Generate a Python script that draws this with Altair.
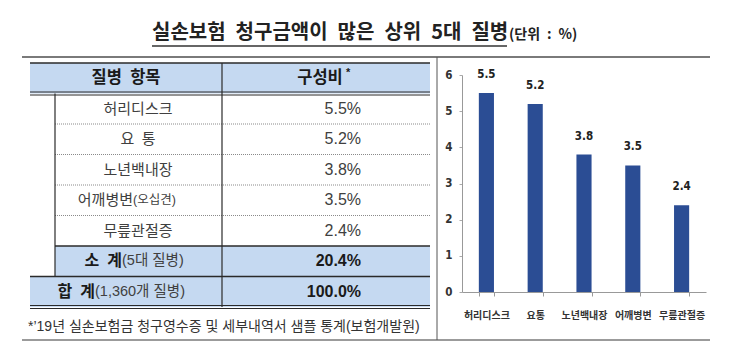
import altair as alt
import pandas as pd

# ---------------- data ----------------
title_main = "실손보험 청구금액이 많은 상위 5대 질병"
title_unit = "(단위 : %)"
header_labels = ["질병\u2002항목", "구성비"]
diseases = ["허리디스크", "요\u2002통", "노년백내장", "어깨병변", "무릎관절증"]
disease_notes = ["", "", "", "(오십견)", ""]
shares = [5.5, 5.2, 3.8, 3.5, 2.4]
summary_labels = ["소\u2002계", "합\u2002계"]
summary_notes = ["(5대 질병)", "(1,360개 질병)"]
summary_values = [20.4, 100.0]
footnote = "*\u201919년 실손보험금 청구영수증 및 세부내역서 샘플 통계(보험개발원)"
bar_labels = ["허리디스크", "요통", "노년백내장", "어깨병변", "무릎관절증"]
y_ticks = [0, 1, 2, 3, 4, 5, 6]

# ---------------- layout / style ----------------
W, H = 743, 355
FONT_KR = "Noto Sans CJK KR"
FONT_TBL = "Liberation Sans, Noto Sans CJK KR"
FONT_NUM = "Liberation Sans Narrow, DejaVu Sans Condensed, Liberation Sans"
FONT_CHART = "Liberation Sans Narrow, Noto Sans CJK KR"
TBL_L, TBL_IN, TBL_MID, TBL_R = 30, 55, 222, 430
ROW_TOP, ROW_BOT = 63, 307
COL1_C, COL2_R = 138, 361
HEAD1_C, HEAD2_C = 126, 320
BLUE_FILL = "#c5d9f1"
BAR_COLOR = "#2b4d94"
LINE_DARK = "#2a2a2a"
SPLIT_X = {4: 133, 6: 122, 7: 95}   # where main label ends and the small note begins
PLOT_X0, PLOT_X1, PLOT_Y0, PLOT_Y1 = 462, 706, 292, 75

# ---------------- table frame ----------------
n_items = len(diseases)
rows = [dict(r=0, kind="header", label=header_labels[0], note="", value=header_labels[1])]
for i, (d, nt, v) in enumerate(zip(diseases, disease_notes, shares)):
    rows.append(dict(r=i + 1, kind="item", label=d, note=nt, value=f"{v:.1f}%"))
for j, (lab, nt, v) in enumerate(zip(summary_labels, summary_notes, summary_values)):
    rows.append(dict(r=n_items + 1 + j, kind="subtotal" if j == 0 else "total",
                     label=lab, note=nt, value=f"{v:.1f}%"))
tbl = pd.DataFrame(rows)
tbl["r1"] = tbl["r"] + 1
tbl["rc"] = tbl["r"] + 0.5
tbl["split"] = tbl["r"].map(SPLIT_X)
n_rows = len(tbl)

yrow = alt.Scale(domain=[0, n_rows], range=[ROW_TOP, ROW_BOT], nice=False, zero=False)


def Yr(field):
    return alt.Y(f"{field}:Q", scale=yrow, axis=None)


fill_wide = alt.Chart(tbl[tbl["kind"].isin(["header", "total"])]).mark_rect(color=BLUE_FILL).encode(
    x=alt.value(TBL_L), x2=alt.value(TBL_R), y=Yr("r"), y2="r1:Q")
fill_inner = alt.Chart(tbl[tbl["kind"] == "subtotal"]).mark_rect(color=BLUE_FILL).encode(
    x=alt.value(TBL_IN), x2=alt.value(TBL_R), y=Yr("r"), y2="r1:Q")

style = ["wide", "double"] + ["dotted"] * (n_items - 1) + ["inner", "wide", "double"]
bounds = pd.DataFrame({"b": list(range(n_rows + 1)), "style": style})


def hrule(st, x0, **kw):
    return alt.Chart(bounds[bounds["style"] == st]).mark_rule(**kw).encode(
        x=alt.value(x0), x2=alt.value(TBL_R), y=Yr("b"))


rules = [
    hrule("wide", TBL_L, color=LINE_DARK, strokeWidth=1.6),
    hrule("double", TBL_L, color=LINE_DARK, strokeWidth=1, yOffset=-1.5),
    hrule("double", TBL_L, color=LINE_DARK, strokeWidth=1, yOffset=1.5),
    hrule("inner", TBL_IN, color=LINE_DARK, strokeWidth=1.4),
    hrule("dotted", TBL_IN, color="#8a8a8a", strokeWidth=1, strokeDash=[1, 1]),
]
vl = pd.DataFrame({"b0": [1, 0], "b1": [n_rows - 1, n_rows]})
rules.append(alt.Chart(vl.iloc[[0]]).mark_rule(color=LINE_DARK, strokeWidth=1.2).encode(
    x=alt.value(TBL_IN), y=Yr("b0"), y2="b1:Q"))
rules.append(alt.Chart(vl.iloc[[1]]).mark_rule(color=LINE_DARK, strokeWidth=1.2).encode(
    x=alt.value(TBL_MID), y=Yr("b0"), y2="b1:Q"))

hdr = tbl[tbl["kind"] == "header"]
items_plain = tbl[(tbl["kind"] == "item") & (tbl["note"] == "")]
items_note = tbl[(tbl["kind"] == "item") & (tbl["note"] != "")]
summ = tbl[tbl["kind"].isin(["subtotal", "total"])]
items = tbl[tbl["kind"] == "item"]

texts = [
    alt.Chart(hdr).mark_text(font=FONT_TBL, fontSize=16.5, fontWeight="bold", color="#1a1a1a",
                             baseline="middle").encode(x=alt.value(HEAD1_C), y=Yr("rc"), text="label:N"),
    alt.Chart(hdr).mark_text(font=FONT_TBL, fontSize=16.5, fontWeight="bold", color="#1a1a1a",
                             baseline="middle").encode(x=alt.value(HEAD2_C), y=Yr("rc"), text="value:N"),
    alt.Chart(hdr).mark_text(font=FONT_TBL, fontSize=11, fontWeight="bold", color="#1a1a1a",
                             align="left", baseline="middle", dx=26, dy=-5).encode(
        x=alt.value(HEAD2_C), y=Yr("rc"), text=alt.value("*")),
    alt.Chart(items_plain).mark_text(font=FONT_TBL, fontSize=15, color="#404040",
                                     baseline="middle").encode(x=alt.value(COL1_C), y=Yr("rc"), text="label:N"),
    alt.Chart(items_note).mark_text(font=FONT_TBL, fontSize=15, color="#404040", align="right",
                                    baseline="middle").encode(x=alt.X("split:Q", scale=None), y=Yr("rc"), text="label:N"),
    alt.Chart(items_note).mark_text(font=FONT_TBL, fontSize=12.5, color="#404040", align="left",
                                    baseline="middle").encode(x=alt.X("split:Q", scale=None), y=Yr("rc"), text="note:N"),
    alt.Chart(summ).mark_text(font=FONT_TBL, fontSize=16, fontWeight="bold", color="#1a1a1a", align="right",
                              baseline="middle").encode(x=alt.X("split:Q", scale=None), y=Yr("rc"), text="label:N"),
    alt.Chart(summ).mark_text(font=FONT_TBL, fontSize=14.5, color="#404040", align="left",
                              baseline="middle").encode(x=alt.X("split:Q", scale=None), y=Yr("rc"), text="note:N"),
    alt.Chart(items).mark_text(font=FONT_TBL, fontSize=16, color="#404040", align="right",
                               baseline="middle").encode(x=alt.value(COL2_R), y=Yr("rc"), text="value:N"),
    alt.Chart(summ).mark_text(font=FONT_TBL, fontSize=16, fontWeight="bold", color="#1a1a1a", align="right",
                              baseline="middle").encode(x=alt.value(COL2_R), y=Yr("rc"), text="value:N"),
]

table = alt.layer(fill_wide, fill_inner, *rules, *texts)

# ---------------- bar chart ----------------
bars_df = pd.DataFrame({"질병": bar_labels, "구성비": shares})
bars_df["label"] = bars_df["구성비"].map(lambda v: f"{v:.1f}")

xb = alt.X("질병:N", sort=bar_labels,
           scale=alt.Scale(range=[PLOT_X0, PLOT_X1], paddingInner=0.69, paddingOuter=0.345),
           axis=alt.Axis(orient="bottom", offset=-(H - PLOT_Y0), title=None, labelAngle=0,
                         tickBand="extent", labelFont=FONT_CHART, labelFontSize=10,
                         labelFontWeight="bold", labelColor="#333", labelPadding=14,
                         tickSize=4, tickColor="#999", domainColor="#999"))
yb = alt.Y("구성비:Q", scale=alt.Scale(domain=[0, 6], range=[PLOT_Y0, PLOT_Y1], nice=False),
           axis=alt.Axis(orient="left", offset=-PLOT_X0, values=y_ticks, title=None, grid=False,
                         labelFont=FONT_NUM, labelFontSize=11.5, labelFontWeight="bold",
                         labelColor="#333", tickSize=3, tickColor="#aaa", domainColor="#999",
                         labelPadding=7))
bars = alt.Chart(bars_df).mark_bar(color=BAR_COLOR).encode(x=xb, y=yb)
bar_text = alt.Chart(bars_df).mark_text(dy=-18, baseline="middle", font=FONT_NUM, fontSize=11.5,
                                        fontWeight="bold", color="#222").encode(x=xb, y=yb, text="label:N")
chart = alt.layer(bars, bar_text)

# ---------------- titles & frame ----------------
one = alt.Data(values=[{}])
title_t = alt.Chart(pd.DataFrame({"t": [title_main.replace(" ", "\u2002")]})).mark_text(
    align="left", baseline="middle", font=FONT_KR, fontSize=20, fontWeight="bold", color="#222").encode(
    x=alt.value(152), y=alt.value(33), text="t:N")
unit_t = alt.Chart(pd.DataFrame({"t": [title_unit.replace(" ", "\u2002")]})).mark_text(
    align="left", baseline="middle", font=FONT_KR, fontSize=14, fontWeight="bold", color="#222").encode(
    x=alt.value(509), y=alt.value(35), text="t:N")
foot_t = alt.Chart(pd.DataFrame({"t": [footnote]})).mark_text(
    align="left", baseline="middle", font=FONT_TBL, fontSize=14, color="#333").encode(
    x=alt.value(28), y=alt.value(327), text="t:N")
underline = alt.Chart(one).mark_rule(color="#333", strokeWidth=1.5).encode(
    x=alt.value(152), x2=alt.value(507), y=alt.value(46))
top_line = alt.Chart(one).mark_rule(color="#7a7a7a", strokeWidth=2).encode(
    x=alt.value(22), x2=alt.value(710), y=alt.value(57))
bot_line = alt.Chart(one).mark_rule(color="#7a7a7a", strokeWidth=1.5).encode(
    x=alt.value(22), x2=alt.value(710), y=alt.value(340))
divider = alt.Chart(one).mark_rule(color="#555", strokeWidth=1).encode(
    x=alt.value(437), y=alt.value(57), y2=alt.value(340))

deco = alt.layer(top_line, bot_line, divider, underline, title_t, unit_t, foot_t)

final = alt.layer(table, chart, deco).resolve_scale(x="independent", y="independent").properties(
    width=W, height=H, padding=0, autosize=alt.AutoSizeParams(type="none"), background="white"
).configure_view(stroke=None)

final.save("out.html", embed_options={"renderer": "svg", "actions": False})
